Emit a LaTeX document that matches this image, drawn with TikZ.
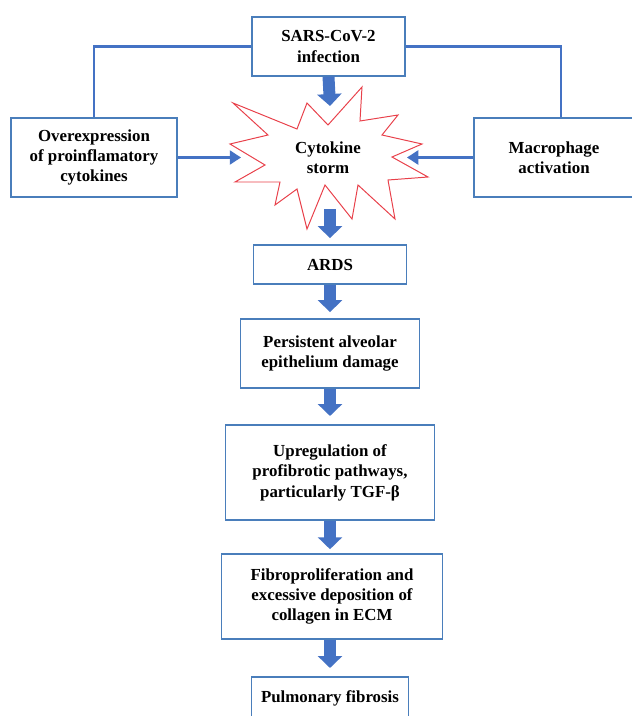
\documentclass[tikz,border=0pt]{standalone}
\usepackage{fontspec}
\setmainfont{Liberation Serif}
\usetikzlibrary{arrows.meta}
\definecolor{boxblue}{HTML}{4A7EBB}
\definecolor{arrowblue}{HTML}{4472C4}
\definecolor{stormred}{HTML}{E8404A}
\tikzset{box/.style={draw=boxblue, line width=0.8pt, fill=white, align=center, inner sep=2pt, font=\bfseries\fontsize{12}{14.5}\selectfont},
         label text/.style={align=center, inner sep=0pt, font=\bfseries\fontsize{12}{14.5}\selectfont},
         big arrow/.style={draw=arrowblue, line width=8.5pt, -{Triangle[width=17pt,length=8.5pt]}},
         link/.style={draw=arrowblue, line width=1.5pt},
         link arrow/.style={link, -{Triangle[width=10pt,length=8pt]}},
         storm line/.style={draw=stormred, line width=0.7pt, line join=miter}}

\begin{document}
\begin{tikzpicture}[x=0.025cm, y=-0.025cm]
   \useasboundingbox (0,0) rectangle (631,716);
   \node[box, minimum width=3.825cm, minimum height=1.475cm] (sars) at (328.5, 46.5) {SARS-CoV-2\\infection};
   \node[box, minimum width=4.15cm, minimum height=1.975cm] (over) at ( 94.0,157.5) {Overexpression\\of proinflamatory\\cytokines};
   \node[box, minimum width=4.0cm, minimum height=1.975cm] (mac) at (554.0,157.5) {Macrophage\\activation};
   \draw[storm line] (233,103) -- (297,129) -- (307,103) -- (328,125) -- (362,87) -- (360,121)
                  -- (398,115) -- (382,135) -- (422,144) -- (392,157) -- (428,177) -- (388,180)
                  -- (395,219) -- (358,185) -- (352,219) -- (325,185) -- (307,229) -- (297,189)
                  -- (275,205) -- (280,182) -- (235,182) -- (265,165) -- (230,144) -- (268,135) -- cycle;
   \node[label text] (storm) at (328,158) {Cytokine\\storm};
   \coordinate (stormN) at (330,106);
   \coordinate (stormS) at (330,209);
   \coordinate (stormW) at (241,157.5);
   \coordinate (stormE) at (407,157.5);
   \node[box, minimum width=3.825cm, minimum height=0.975cm] (ards) at (330,264.5) {ARDS};
   \node[box, minimum width=4.475cm, minimum height=1.725cm] (pers) at (330,353.5) {Persistent alveolar\\epithelium damage};
   \node[box, minimum width=5.225cm, minimum height=2.375cm] (upreg) at (330,472.5) {Upregulation of\\profibrotic pathways,\\particularly TGF-β};
   \node[box, minimum width=5.525cm, minimum height=2.125cm] (fibro) at (332,596.5) {Fibroproliferation and\\excessive deposition of\\collagen in ECM};
   \node[box, minimum width=3.925cm, minimum height=1.05cm] (pulm) at (330,698) {Pulmonary fibrosis};
   \draw[link] (sars.west) -| (over.north);
   \draw[link] (sars.east) -| ([xshift=0.175cm]mac.north);
   \draw[link arrow] (over.east) -- (stormW);
   \draw[link arrow] (mac.west) -- (stormE);
   \draw[big arrow] (sars.south) -- (stormN);
   \draw[big arrow, shorten >=4.5pt] (stormS) -- (ards.north);
   \draw[big arrow, shorten >=4.5pt] (ards.south) -- (pers.north);
   \draw[big arrow, shorten >=6pt] (pers.south) -- (upreg.north);
   \draw[big arrow, shorten >=3pt] (upreg.south) -- (upreg.south |- fibro.north);
   \draw[big arrow, shorten >=6pt] (fibro.south -| upreg.south) -- (pulm.north);
  \end{tikzpicture}
\end{document}
